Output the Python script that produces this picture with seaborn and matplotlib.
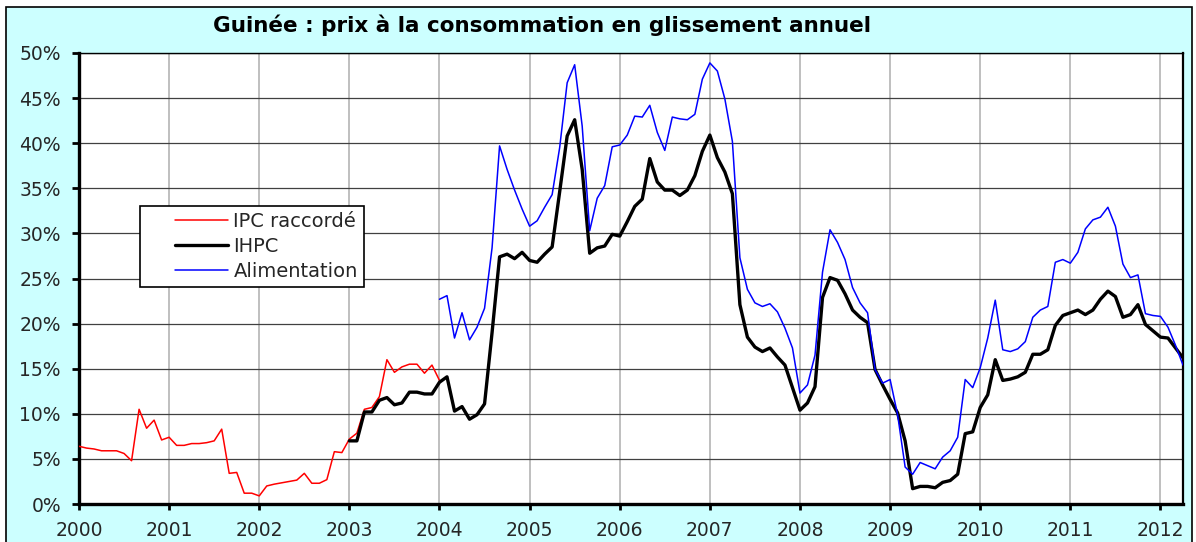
import numpy as np
import pandas as pd
import matplotlib
matplotlib.use("Agg")
import matplotlib.pyplot as plt
from matplotlib.patches import Rectangle
from matplotlib.lines import Line2D
from matplotlib.legend_handler import HandlerLine2D
from matplotlib.ticker import FuncFormatter, MultipleLocator
import seaborn as sns

# ---------------- data (monthly, year-on-year %) ----------------
title = "Guinée : prix à la consommation en glissement annuel"
labels = ["IPC raccordé", "IHPC", "Alimentation"]
year_ticks = list(range(2000, 2013))

# IPC raccordé : 2000-01 .. 2004-01
ipc_start = (2000, 1)
ipc = [6.4, 6.2, 6.1, 5.9, 5.9, 5.9, 5.6, 4.8, 10.5, 8.4, 9.3, 7.1,
       7.4, 6.5, 6.5, 6.7, 6.7, 6.8, 7.0, 8.3, 3.4, 3.5, 1.2, 1.2,
       0.9, 2.0, 2.2, 2.35, 2.5, 2.65, 3.4, 2.3, 2.3, 2.7, 5.8, 5.7,
       7.2, 7.85, 10.5, 10.7, 11.9, 16.0, 14.6, 15.2, 15.5, 15.5, 14.5, 15.4,
       13.7]

# IHPC : 2003-01 .. 2012-04
ihpc_start = (2003, 1)
ihpc = [7.0, 7.0, 10.2, 10.2, 11.5, 11.8, 11.0, 11.2, 12.4, 12.4, 12.2, 12.2,
        13.5, 14.1, 10.3, 10.8, 9.4, 9.9, 11.1, 19.0, 27.4, 27.7, 27.2, 27.9,
        27.0, 26.8, 27.7, 28.5, 34.6, 40.8, 42.6, 37.1, 27.8, 28.4, 28.6, 29.9,
        29.7, 31.3, 33.0, 33.8, 38.3, 35.7, 34.8, 34.8, 34.2, 34.8, 36.4, 39.1,
        40.9, 38.4, 36.8, 34.4, 22.1, 18.5, 17.4, 16.9, 17.3, 16.3, 15.4, 12.9,
        10.4, 11.2, 13.0, 22.9, 25.1, 24.8, 23.3, 21.5, 20.7, 20.1, 14.9, 13.2,
        11.6, 10.1, 7.0, 1.7, 1.95, 1.95, 1.8, 2.4, 2.6, 3.3, 7.8, 8.0,
        10.7, 12.1, 16.0, 13.7, 13.85, 14.1, 14.6, 16.6, 16.6, 17.1, 19.8, 20.9,
        21.2, 21.5, 21.0, 21.5, 22.7, 23.6, 23.0, 20.7, 21.0, 22.1, 19.9, 19.2,
        18.5, 18.4, 17.3, 16.2]

# Alimentation : 2004-01 .. 2012-04
alim_start = (2004, 1)
alim = [22.7, 23.1, 18.4, 21.2, 18.2, 19.6, 21.7, 28.4, 39.7, 37.1, 34.8, 32.7,
        30.8, 31.4, 32.9, 34.3, 39.5, 46.7, 48.7, 41.9, 30.3, 33.9, 35.3, 39.6,
        39.8, 40.9, 43.0, 42.9, 44.2, 41.2, 39.2, 42.9, 42.7, 42.6, 43.2, 47.1,
        48.9, 48.0, 44.9, 40.2, 27.3, 23.8, 22.3, 21.9, 22.2, 21.3, 19.5, 17.3,
        12.3, 13.2, 16.5, 25.7, 30.4, 29.0, 27.1, 24.0, 22.3, 21.2, 14.9, 13.4,
        13.8, 9.9, 4.1, 3.3, 4.6, 4.25, 3.9, 5.2, 5.9, 7.4, 13.8, 12.9,
        15.1, 18.4, 22.6, 17.1, 16.9, 17.2, 18.0, 20.7, 21.5, 21.9, 26.8, 27.1,
        26.7, 27.9, 30.5, 31.5, 31.8, 32.9, 30.8, 26.6, 25.1, 25.4, 21.1, 20.9,
        20.8, 19.6, 17.6, 15.4]


def month_axis(start, n):
    y, m = start
    return y + (m - 1 + np.arange(n)) / 12.0


# ---------------- figure ----------------
sns.set_theme(style="white")
plt.rcParams["font.family"] = ["DejaVu Sans"]

W, H = 1196, 542
fig = plt.figure(figsize=(W / 100, H / 100), dpi=100, facecolor="white")

# cyan chart area with black frame
fig.patches.append(Rectangle((6 / W, -0.05), (1192 - 6) / W, 1.05 - 7 / H,
                             transform=fig.transFigure, facecolor="#CCFFFF",
                             edgecolor="black", linewidth=1.2, zorder=-5))

ax = fig.add_axes([79 / W, 1 - 504 / H, (1183 - 79) / W, (504 - 53) / H])
ax.set_zorder(2)
ax.set_facecolor("white")

series = [
    (ipc_start, ipc, "#FF0000", 1.1, labels[0]),
    (ihpc_start, ihpc, "#000000", 2.4, labels[1]),
    (alim_start, alim, "#0000FF", 1.1, labels[2]),
]
for start, vals, col, lw, lab in series:
    df = pd.DataFrame({"x": month_axis(start, len(vals)), "y": vals})
    sns.lineplot(data=df, x="x", y="y", ax=ax, color=col, linewidth=lw,
                 label=lab, sort=False, zorder=3)

ax.set_xlim(2000, 2012.25)
ax.set_ylim(0, 50)
ax.set_xticks(year_ticks)
ax.set_xticklabels([str(y) for y in year_ticks])
ax.yaxis.set_major_locator(MultipleLocator(5))
ax.yaxis.set_major_formatter(FuncFormatter(lambda v, p: f"{v:.0f}%"))
ax.set_xlabel("")
ax.set_ylabel("")

ax.grid(axis="y", color="#404040", linewidth=0.9, zorder=1)
ax.grid(axis="x", color="#BFBFBF", linewidth=1.4, zorder=1)
ax.set_axisbelow(True)

for side, lw in (("left", 2.4), ("bottom", 2.4), ("top", 1.0), ("right", 1.6)):
    ax.spines[side].set_visible(True)
    ax.spines[side].set_color("black")
    ax.spines[side].set_linewidth(lw)

ax.tick_params(axis="y", which="major", direction="out", length=5, width=2,
               color="black", labelsize=13.5, pad=8, left=True)
ax.tick_params(axis="x", which="major", direction="out", length=4, width=2,
               color="black", labelsize=13.5, pad=8, bottom=True)

fig.text(542 / W, 1 - 25 / H, title, ha="center", va="center",
         fontsize=15.5, fontweight="bold", color="black", zorder=5)

leg_fs = 14
leg = ax.legend(loc="upper left", bbox_to_anchor=(0.0553, 0.661),
                frameon=True, fancybox=False, fontsize=leg_fs,
                handlelength=4.2, handletextpad=0.3, borderpad=0.3,
                labelspacing=0.31, borderaxespad=0,
                handler_map={Line2D: HandlerLine2D(xpad=1.5)})
leg.get_frame().set_edgecolor("black")
leg.get_frame().set_linewidth(1.2)
leg.get_frame().set_facecolor("white")
leg.get_frame().set_alpha(1)

fig.savefig("out.png", dpi=100, facecolor="white")
